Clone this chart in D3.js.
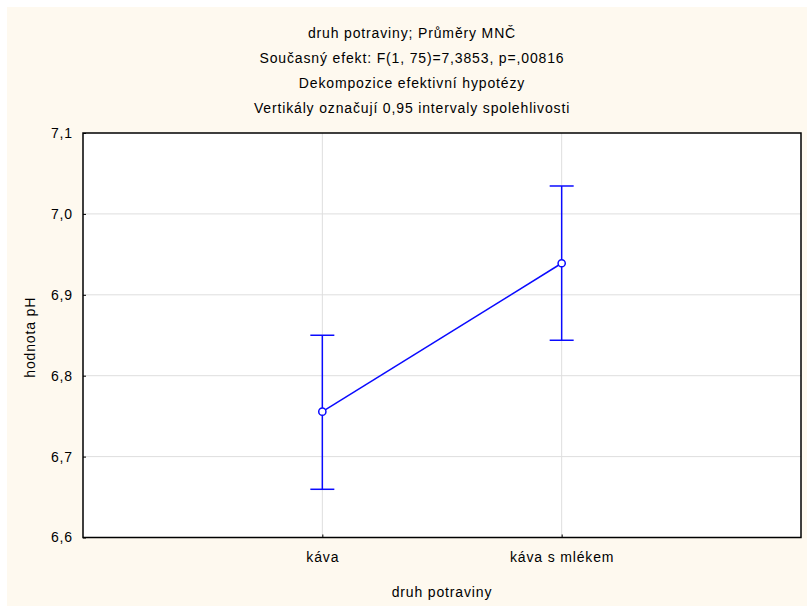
<!DOCTYPE html>
<html><head><meta charset="utf-8">
<script src="https://cdn.jsdelivr.net/npm/d3@7"></script>
<style>body{margin:0;background:#fff}svg{display:block}text{font-family:"Liberation Sans",Arial,sans-serif;fill:#000;font-size:14px;letter-spacing:0.85px}</style>
</head><body>
<script>
const categories = ["káva", "káva s mlékem"];
const means = [6.7555, 6.9390];
const lower = [6.6596, 6.8438];
const upper = [6.8500, 7.0345];
const yTicks = [6.6, 6.7, 6.8, 6.9, 7.0, 7.1];
const titleLines = ["druh potraviny; Průměry MNČ", "Současný efekt: F(1, 75)=7,3853, p=,00816", "Dekompozice efektivní hypotézy", "Vertikály označují 0,95 intervaly spolehlivosti"];
const xTitle = "druh potraviny";
const yTitle = "hodnota pH";

const W = 807, H = 606;
const m = {left: 83, right: 6, top: 133, bottom: 68.5};
const svg = d3.select("body").append("svg").attr("width", W).attr("height", H);
svg.append("rect").attr("x", 7).attr("y", 7).attr("width", W - 7).attr("height", H - 7).attr("fill", "#FEF9EF");

const x = d3.scalePoint().domain(categories).range([m.left, W - m.right]).padding(1);
const y = d3.scaleLinear().domain([6.6, 7.1]).range([H - m.bottom, m.top]);

svg.append("rect").attr("x", m.left).attr("y", m.top).attr("width", W - m.right - m.left).attr("height", H - m.bottom - m.top).attr("fill", "#fff");

// grid
const g = svg.append("g");
g.selectAll(".hg").data(yTicks.slice(1, -1)).join("line")
  .attr("x1", m.left).attr("x2", W - m.right).attr("y1", d => y(d)).attr("y2", d => y(d))
  .attr("stroke", "#dedede").attr("stroke-width", 1);
g.selectAll(".vg").data(categories).join("line")
  .attr("x1", d => x(d)).attr("x2", d => x(d)).attr("y1", m.top).attr("y2", H - m.bottom)
  .attr("stroke", "#dedede").attr("stroke-width", 1);

// axes
const fmt = d => d3.format(".1f")(d).replace(".", ",");
const yAxis = svg.append("g").attr("transform", `translate(${m.left},0)`)
  .call(d3.axisLeft(y).tickValues(yTicks).tickFormat(fmt).tickSizeInner(-3).tickSizeOuter(0).tickPadding(10));
yAxis.select(".domain").remove();
yAxis.attr("font-size", null).attr("font-family", null);
yAxis.selectAll("line").attr("stroke", "#000");

const xAxis = svg.append("g").attr("transform", `translate(0,${H - m.bottom})`)
  .call(d3.axisBottom(x).tickSizeInner(-3).tickSizeOuter(0).tickPadding(14.5));
xAxis.select(".domain").remove();
xAxis.attr("font-size", null).attr("font-family", null);
xAxis.selectAll("line").attr("stroke", "#000");

// frame
svg.append("rect").attr("x", m.left).attr("y", m.top).attr("width", W - m.right - m.left).attr("height", H - m.bottom - m.top)
  .attr("fill", "none").attr("stroke", "#000").attr("stroke-width", 1.5);

// data
const data = categories.map((c, i) => ({c, m: means[i], lo: lower[i], hi: upper[i]}));
const blue = "#0a0aff";
svg.append("path").datum(data).attr("fill", "none").attr("stroke", blue).attr("stroke-width", 1.5)
  .attr("d", d3.line().x(d => x(d.c)).y(d => y(d.m)));
const eb = svg.append("g").attr("stroke", blue).attr("stroke-width", 1.5).attr("fill", "none");
eb.selectAll(".v").data(data).join("line").attr("x1", d => x(d.c)).attr("x2", d => x(d.c)).attr("y1", d => y(d.lo)).attr("y2", d => y(d.hi));
eb.selectAll(".t").data(data).join("line").attr("x1", d => x(d.c) - 12).attr("x2", d => x(d.c) + 12).attr("y1", d => y(d.hi)).attr("y2", d => y(d.hi));
eb.selectAll(".b").data(data).join("line").attr("x1", d => x(d.c) - 12).attr("x2", d => x(d.c) + 12).attr("y1", d => y(d.lo)).attr("y2", d => y(d.lo));
eb.selectAll("circle").data(data).join("circle").attr("cx", d => x(d.c)).attr("cy", d => y(d.m)).attr("r", 3.6).attr("fill", "#fff");

// titles
svg.selectAll(".tl").data(titleLines).join("text")
  .attr("x", 412).attr("y", (d, i) => 37.5 + i * 25.3).attr("text-anchor", "middle").text(d => d);
svg.append("text").attr("x", x.range()[0] + (x.range()[1] - x.range()[0]) / 2).attr("y", 597).attr("text-anchor", "middle").text(xTitle);
svg.append("text").attr("transform", `translate(35,${(m.top + H - m.bottom) / 2 + 2}) rotate(-90)`).attr("text-anchor", "middle").text(yTitle);
</script>
</body></html>
